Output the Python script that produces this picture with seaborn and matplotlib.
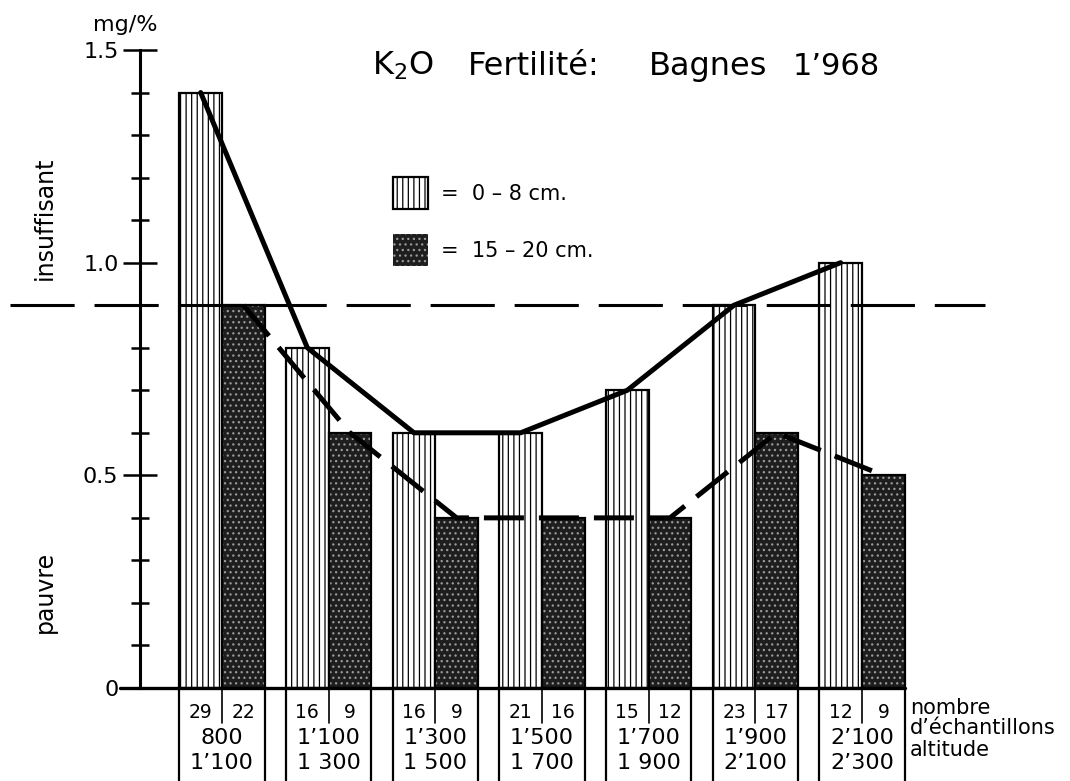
import numpy as np
import pandas as pd
import matplotlib.pyplot as plt
import seaborn as sns
from matplotlib.patches import Patch, Rectangle
from matplotlib.ticker import MultipleLocator

# data
alt_bas = ['800', '1’100', '1’300', '1’500', '1’700', '1’900', '2’100']
alt_haut = ['1’100', '1 300', '1 500', '1 700', '1 900', '2’100', '2’300']
k2o_0_8 = [1.4, 0.8, 0.6, 0.6, 0.7, 0.9, 1.0]
k2o_15_20 = [0.9, 0.6, 0.4, 0.4, 0.4, 0.6, 0.5]
n_0_8 = [29, 16, 16, 21, 15, 23, 12]
n_15_20 = [22, 9, 9, 16, 12, 17, 9]
seuil = 0.9
yticks = [0, 0.5, 1.0, 1.5]
ytick_labels = ['0', '0.5', '1.0', '1.5']

classes = [f'{a}-{b}' for a, b in zip(alt_bas, alt_haut)]
df = pd.DataFrame({
    'classe': classes * 2,
    'profondeur': ['0-8'] * len(classes) + ['15-20'] * len(classes),
    'k2o': k2o_0_8 + k2o_15_20,
})

sns.set_style('white')
plt.rcParams['font.family'] = ['DejaVu Sans']
plt.rcParams['hatch.linewidth'] = 0.9
plt.rcParams['text.color'] = 'black'
plt.rcParams['ytick.color'] = 'black'
plt.rcParams['axes.edgecolor'] = 'black'

W, H = 1070, 781
fig = plt.figure(figsize=(W / 100, H / 100), dpi=100)
ax = fig.add_axes([140 / W, (H - 688) / H, 845 / W, 638 / H])

sns.barplot(data=df, x='classe', y='k2o', hue='profondeur',
            palette=['white', '#1e1e1e'], saturation=1, width=0.8,
            legend=False, ax=ax, zorder=2)

ppu = 640 / 6  # pixels per category
ax.set_xlim((140 - 222) / ppu, (985 - 222) / ppu)
ax.set_ylim(0, 1.5)

n = len(classes)
light, dark = ax.patches[:n], ax.patches[n:2 * n]
for p in light:
    p.set_hatch('|||')
    p.set_edgecolor('black')
    p.set_linewidth(1.6)
for p in dark:
    p.set_hatch('...')
    p.set_edgecolor('#9a9a9a')
    p.set_linewidth(0)
    ax.add_patch(Rectangle((p.get_x(), 0), p.get_width(), p.get_height(),
                           fill=False, edgecolor='black', lw=1.6, zorder=2.1))

# trend lines through bar tops
cx_l = [p.get_x() + p.get_width() / 2 for p in light]
cx_d = [p.get_x() + p.get_width() / 2 for p in dark]
sns.lineplot(x=cx_l, y=k2o_0_8, sort=False, color='black', lw=3.6,
             ax=ax, zorder=4)
sns.lineplot(x=cx_d, y=k2o_15_20, sort=False, color='black', lw=3.6,
             linestyle=(0, (8, 3)), ax=ax, zorder=4)

# threshold line
ax.axhline(seuil, xmin=-130 / 845, xmax=1, color='black', lw=2.2,
           ls=(0, (21, 6.5)), clip_on=False, zorder=3)

# axes styling
for s in ['top', 'right', 'bottom']:
    ax.spines[s].set_visible(False)
ax.spines['left'].set_linewidth(2.2)
x_end = dark[-1].get_x() + dark[-1].get_width()
ax.plot([ax.get_xlim()[0] - 20 / ppu, x_end], [0, 0], color='black',
        lw=2.4, clip_on=False, zorder=5)
ax.set_xticks([])
ax.set_xlabel('')
ax.set_ylabel('')
ax.set_yticks(yticks)
ax.set_yticklabels(ytick_labels, fontsize=16)
ax.yaxis.set_minor_locator(MultipleLocator(0.1))
ax.tick_params(axis='y', which='major', direction='inout', length=25,
               width=1.8, pad=3, left=True)
ax.tick_params(axis='y', which='minor', direction='inout', length=13,
               width=1.8, left=True)

# table under the bars
for i in range(n):
    l, d = light[i], dark[i]
    x0, xm, x1 = l.get_x(), d.get_x(), d.get_x() + d.get_width()
    for xv in (x0, x1):
        ax.plot([xv, xv], [0, -0.219], color='black', lw=1.6, clip_on=False)
    ax.plot([xm, xm], [0, -0.082], color='black', lw=1.2, clip_on=False)
    ax.text(cx_l[i], -0.0565, str(n_0_8[i]), ha='center', va='center',
            fontsize=13.5)
    ax.text(cx_d[i], -0.0565, str(n_15_20[i]), ha='center', va='center',
            fontsize=13.5)
    ax.text((x0 + x1) / 2, -0.118, alt_bas[i], ha='center', va='center',
            fontsize=16)
    ax.text((x0 + x1) / 2, -0.176, alt_haut[i], ha='center', va='center',
            fontsize=16)

xs = x_end + 5 / ppu
ax.text(xs, -0.047, 'nombre', ha='left', va='center', fontsize=15)
ax.text(xs, -0.094, 'd’échantillons', ha='left', va='center', fontsize=15)
ax.text(xs, -0.146, 'altitude', ha='left', va='center', fontsize=15)

# legend
handles = [Patch(facecolor='white', edgecolor='black', hatch='|||', lw=1.6),
           Patch(facecolor='#1e1e1e', edgecolor='#9a9a9a', hatch='...', lw=0)]
ax.legend(handles=handles, labels=['=  0 – 8 cm.', '=  15 – 20 cm.'],
          loc='upper left', bbox_to_anchor=(393 / W, 1 - 177 / H),
          bbox_transform=fig.transFigure, frameon=False, fontsize=15,
          handlelength=1.7, handleheight=2.0, labelspacing=1.2,
          handletextpad=0.6, borderpad=0, borderaxespad=0)

# titles and side labels
ty = 1 - 75 / H
fig.text(372 / W, ty, 'K$_2$O', fontsize=23, va='baseline')
fig.text(468 / W, ty, 'Fertilité:', fontsize=23, va='baseline')
fig.text(649 / W, ty, 'Bagnes', fontsize=23, va='baseline')
fig.text(793 / W, ty, '1’968', fontsize=22, va='baseline')
fig.text(125 / W, 1 - 25 / H, 'mg/%', fontsize=16, ha='center', va='center')
fig.text(45 / W, 1 - 218 / H, 'insuffisant', fontsize=17, rotation=90,
         ha='center', va='center')
fig.text(45 / W, 1 - 592 / H, 'pauvre', fontsize=17, rotation=90,
         ha='center', va='center')

plt.savefig('out.png', dpi=100)
